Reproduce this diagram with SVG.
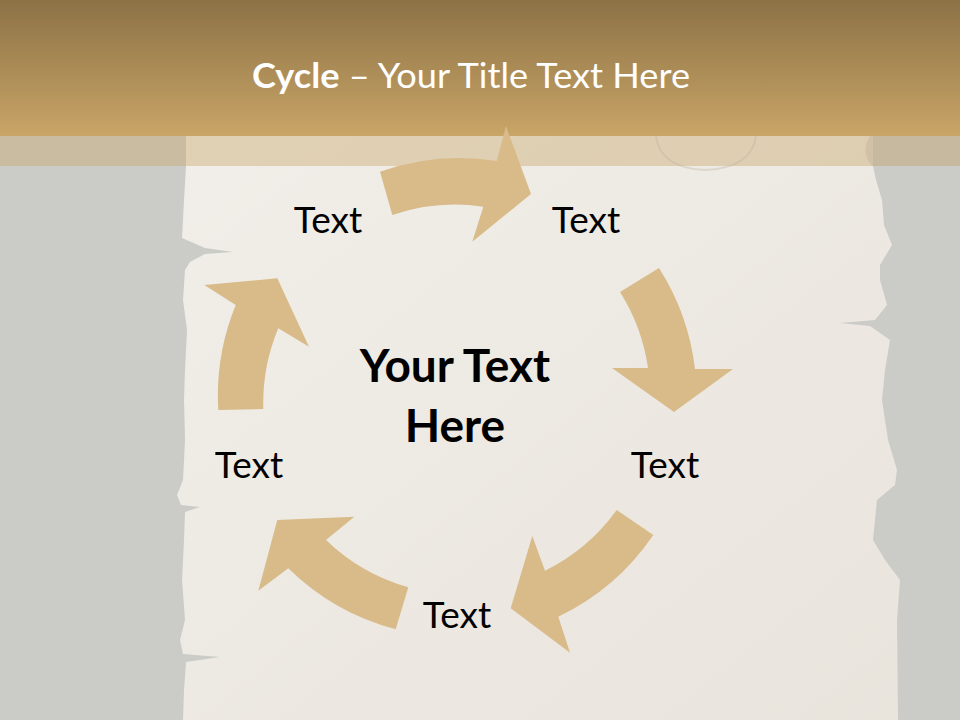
<svg xmlns="http://www.w3.org/2000/svg" width="960" height="720" viewBox="0 0 960 720">
<defs>
<linearGradient id="title" x1="0" y1="0" x2="0" y2="1">
<stop offset="0" stop-color="#8c7246"/>
<stop offset="1" stop-color="#c9a567"/>
</linearGradient>
<linearGradient id="paper" x1="0" y1="0" x2="1" y2="1">
<stop offset="0" stop-color="#f1eee9"/>
<stop offset="1" stop-color="#e9e4dc"/>
</linearGradient>
<style>
.arrow{fill:#d8bb89}
.lbl{font-family:Lato,"Liberation Sans",sans-serif;font-size:37px;fill:#000;text-anchor:middle}
.ctr{font-family:Lato,"Liberation Sans",sans-serif;font-size:46px;font-weight:bold;fill:#000;text-anchor:middle}
.ttl{font-family:Lato,"Liberation Sans",sans-serif;font-size:35px;fill:#fff}
</style>
</defs>
<rect x="0" y="0" width="960" height="720" fill="#cbcbc7"/>
<path id="paperSheet" fill="url(#paper)" d="M186,136 L186,166 L184,200 L182,238 L205,248 L233,252 L205,254 L190,262 L185,270 L183,300 L187,330 L185,370 L184,400 L185,440 L183,480 L177,495 L181,505 L200,507 L185,512 L184,540 L182,580 L185,620 L180,640 L183,654 L220,657 L186,662 L184,690 L183,720 L898,720 L897,620 L900,580 L885,560 L873,540 L877,500 L895,485 L897,470 L888,440 L882,400 L885,370 L890,340 L870,326 L840,323 L875,320 L887,305 L880,280 L880,265 L892,245 L884,225 L882,200 L876,180 L873,166 L873,136 Z"/>
<rect x="0" y="0" width="960" height="136" fill="url(#title)"/>
<rect x="0" y="136" width="960" height="30" fill="#c9a567" fill-opacity="0.4"/>
<path d="M656,136 Q660,168 705,170 Q752,168 756,136" fill="none" stroke="#b9ae9e" stroke-opacity="0.35" stroke-width="2"/>
<path d="M870,136 Q860,152 872,166 L960,166 L960,136 Z" fill="#c4b59d" fill-opacity="0.5"/>
<text class="ttl" x="252" y="88" textLength="438" lengthAdjust="spacingAndGlyphs"><tspan font-weight="bold">Cycle</tspan> – Your Title Text Here</text>
<g id="connectors">
<path class="arrow" d="M380,171.7 A240 240 0 0 1 496.7,161 L506,126 L531,194 L472.3,241.7 L483.3,206.7 A194 194 0 0 0 392.3,215 Z"/>
<path class="arrow" d="M659,268 A240 240 0 0 1 695,369 L733,369 L674,412 L612,368 L648,368 A194 194 0 0 0 620,292 Z"/>
<path class="arrow" d="M653.3,535 A240 240 0 0 1 558.3,616.7 L570,652.7 L510.7,608.3 L532.3,536 L545,570.7 A194 194 0 0 0 616.7,510 Z"/>
<path class="arrow" d="M395.7,629.3 A240 240 0 0 1 288.3,568.3 L258.3,590.7 L277.3,520 L354.3,516.7 L326,540 A194 194 0 0 0 408.3,587.3 Z"/>
<path class="arrow" d="M218.3,410 A240 240 0 0 1 235.7,305 L204.3,285 L277.3,278.3 L309,346.7 L278.3,328.3 A194 194 0 0 0 263.3,409 Z"/>
</g>
<g id="center"><text class="ctr" x="455" y="382">Your Text</text><text class="ctr" x="455" y="442">Here</text></g>
<g id="node1"><text class="lbl" x="328" y="233">Text</text></g>
<g id="node2"><text class="lbl" x="586" y="233">Text</text></g>
<g id="node3"><text class="lbl" x="665" y="478">Text</text></g>
<g id="node4"><text class="lbl" x="457" y="628">Text</text></g>
<g id="node5"><text class="lbl" x="249" y="478">Text</text></g>
</svg>
